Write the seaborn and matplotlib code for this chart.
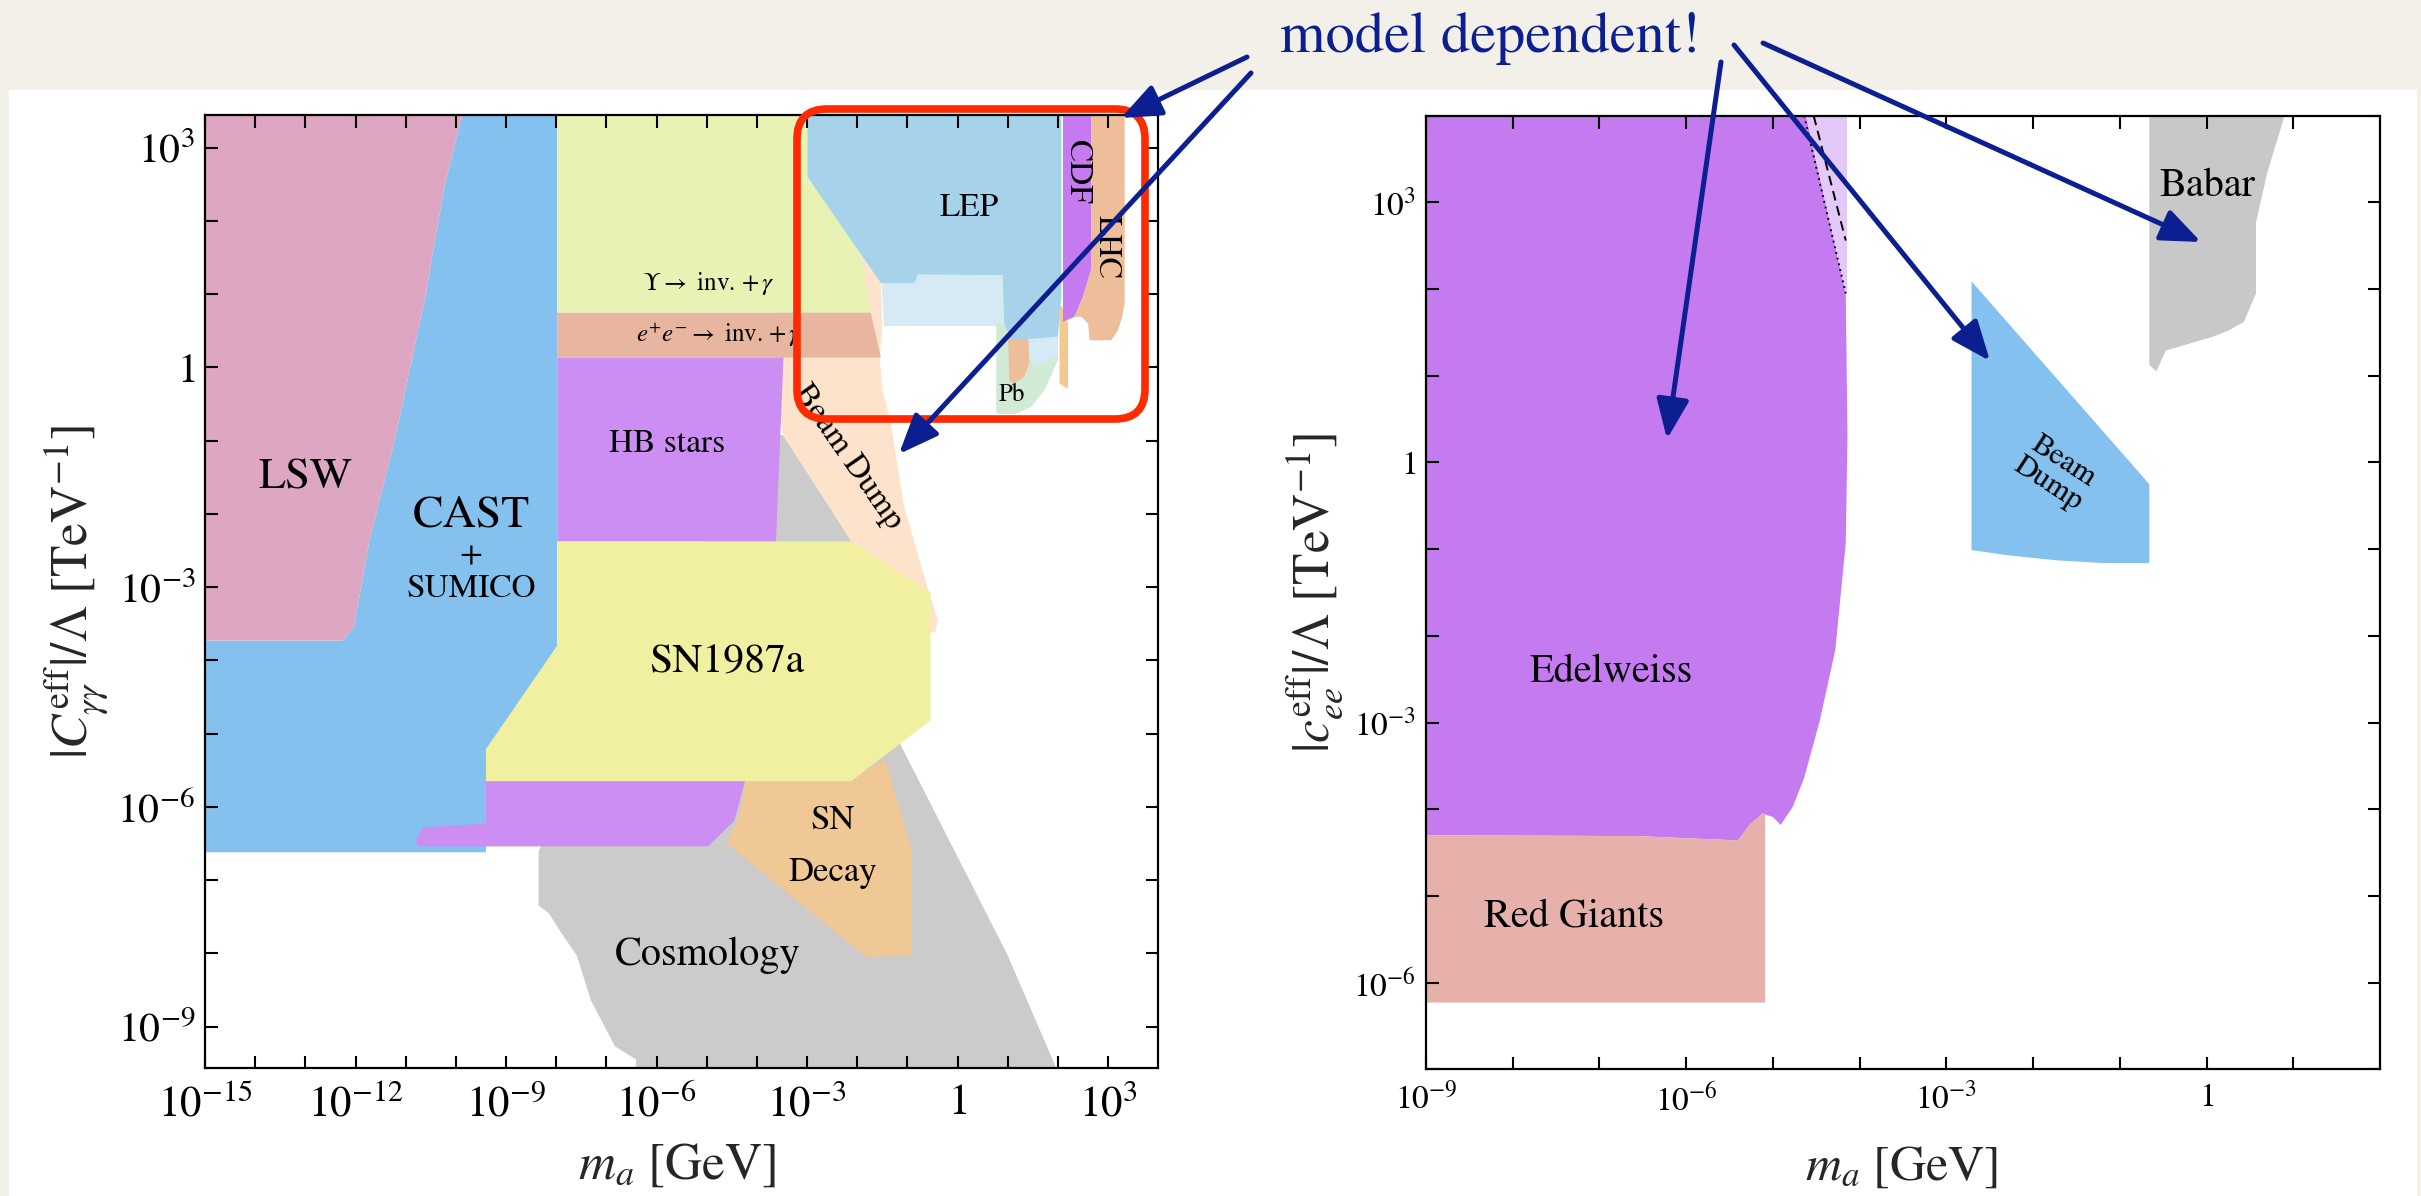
import numpy as np
import matplotlib
matplotlib.use("Agg")
import matplotlib.pyplot as plt
import seaborn as sns
from matplotlib.patches import FancyBboxPatch, Rectangle
from matplotlib.ticker import FixedLocator, FuncFormatter, NullLocator

# ------------------------------------------------------------------
# DATA : region boundaries, (log10 m_a[GeV], log10 coupling[TeV^-1])
# ------------------------------------------------------------------
# left panel : photon coupling
cosmology = [(-8.35, -6.6), (-8.35, -7.35), (-8.15, -7.45), (-7.9, -7.72), (-7.59, -8.03),
             (-7.31, -8.64), (-6.83, -9.27), (-6.41, -9.45), (-6.41, -9.7), (2.05, -9.7),
             (1.0, -8.03), (-1.25, -5.0), (-1.6, -4.0), (-2.12, -2.37), (-3.47, -0.92),
             (-4.0, -0.92)]
sn_decay = [(-4.22, -5.6), (-2.12, -5.6), (-1.44, -5.36), (-0.92, -6.57), (-0.92, -8.03),
            (-1.82, -8.05), (-4.6, -6.5), (-4.35, -6.1)]
beam_dump_left = [(-3.6, 3.5), (-2.99, 3.5), (-2.99, 2.6), (-1.53, 1.15), (-1.50, 0.56),
                  (-1.55, 0.13), (-1.5, -0.3), (-1.33, -0.76), (-1.07, -1.9), (-0.6, -3.0),
                  (-0.39, -3.46), (-0.45, -3.62), (-0.54, -3.62), (-2.12, -2.37),
                  (-3.47, -0.94), (-3.6, -0.5)]
cast = [(-9.85, 3.5), (-7.98, 3.5), (-7.98, -3.8), (-9.33, -5.21), (-9.4, -5.3), (-9.4, -6.62),
        (-15.0, -6.62), (-15.0, -3.73), (-12.26, -3.73), (-12.03, -3.55), (-11.73, -2.39),
        (-11.2, -0.94), (-10.6, 1.0), (-10.23, 2.47)]
lsw = [(-15.0, 3.5), (-9.85, 3.5), (-10.23, 2.47), (-10.6, 1.0), (-11.2, -0.94),
       (-11.73, -2.39), (-12.03, -3.55), (-12.26, -3.73), (-15.0, -3.73)]
hb_low = [(-10.75, -6.54), (-10.8, -6.45), (-10.65, -6.28), (-9.4, -6.23), (-9.4, -5.6),
          (-4.22, -5.6), (-4.45, -6.19), (-4.97, -6.54)]
sn1987a = [(-7.98, -2.373), (-2.12, -2.373), (-0.54, -3.07), (-0.54, -4.82), (-2.12, -5.65),
           (-9.4, -5.65), (-9.4, -5.21), (-7.98, -3.8)]
upsilon = [(-7.98, 3.5), (-3.09, 3.5), (-2.46, 2.33), (-1.93, 1.6), (-1.73, 0.746),
           (-7.98, 0.746)]
ee_inv = [(-7.98, 0.746), (-1.73, 0.746), (-1.53, 0.134), (-7.98, 0.134)]
hb_stars = [(-7.98, 0.134), (-3.47, 0.134), (-3.62, -2.373), (-7.98, -2.373)]
lep_light = [(-1.53, 1.3), (0.93, 1.3), (0.93, 0.56), (-1.47, 0.56)]
lep_light2 = [(1.40, 0.45), (2.0, 0.45), (2.0, 0.15), (1.53, 0.01), (1.40, 0.15)]
pb = [(0.77, 0.6), (2.0, 0.6), (2.0, 0.10), (1.73, -0.31), (1.47, -0.54), (1.13, -0.64),
      (0.77, -0.63)]
lhc_low = [(1.0, 0.6), (1.40, 0.6), (1.43, 0.06), (1.33, -0.125), (1.13, -0.22), (1.03, -0.17)]
z_strip = [(2.03, 0.83), (2.08, 0.83), (2.2, 0.6), (2.2, -0.29), (2.12, -0.26), (2.03, -0.22)]
lep = [(-2.99, 3.5), (2.07, 3.5), (2.07, 0.965), (2.0, 0.42), (1.07, 0.37), (0.93, 0.6),
       (0.9, 1.26), (-0.79, 1.27), (-0.86, 1.15), (-1.53, 1.15), (-2.99, 2.6)]
cdf = [(2.10, 3.5), (2.66, 3.5), (2.66, 1.33), (2.50, 0.965), (2.33, 0.69), (2.10, 0.624)]
lhc = [(2.66, 3.5), (3.33, 3.5), (3.33, 0.875), (3.28, 0.69), (3.20, 0.51), (3.06, 0.37),
       (2.63, 0.37), (2.60, 0.60), (2.47, 0.69), (2.33, 0.69), (2.50, 0.965), (2.66, 1.33)]

# right panel : electron coupling
edelweiss = [(-9.0, 4.1), (-4.64, 4.1), (-4.16, 1.95), (-4.14, 0.30), (-4.16, -0.93),
             (-4.28, -2.16), (-4.46, -2.98), (-4.64, -3.64), (-4.77, -3.97), (-4.91, -4.18),
             (-5.0, -4.09), (-5.12, -4.05), (-5.27, -4.18), (-5.40, -4.36), (-6.57, -4.31),
             (-9.0, -4.3)]
edelweiss_light = [(-4.64, 4.1), (-4.14, 4.1), (-4.14, 1.95), (-4.16, 1.95)]
red_giants = [(-9.0, -4.30), (-6.57, -4.31), (-5.40, -4.36), (-5.27, -4.18), (-5.12, -4.05),
              (-5.09, -4.05), (-5.09, -6.23), (-9.0, -6.23)]
beam_dump_right = [(-2.71, 2.09), (-0.66, -0.25), (-0.66, -1.16), (-1.2, -1.16),
                   (-1.72, -1.13), (-2.3, -1.07), (-2.71, -1.01)]
babar = [(-0.66, 4.1), (0.93, 4.1), (0.70, 3.34), (0.57, 2.77), (0.57, 1.95), (0.43, 1.62),
         (0.25, 1.52), (0.07, 1.45), (-0.2, 1.37), (-0.47, 1.29), (-0.58, 1.05), (-0.66, 1.13)]
dashed_x = [-4.53, -4.16]
dashed_y = [4.0, 2.56]
dotted_x = [-4.64, -4.16]
dotted_y = [4.0, 1.95]

# tick decades and labelled decades
left_x_ticks = list(range(-15, 4))
left_x_labels = [-15, -12, -9, -6, -3, 0, 3]
left_y_ticks = list(range(-9, 4))
left_y_labels = [-9, -6, -3, 0, 3]
right_x_ticks = list(range(-9, 2))
right_x_labels = [-9, -6, -3, 0]
right_y_ticks = list(range(-7, 5))
right_y_labels = [-6, -3, 0, 3]

# ------------------------------------------------------------------
# STYLE
# ------------------------------------------------------------------
sns.set_theme(style="ticks")
plt.rcParams["font.family"] = ["STIXGeneral", "DejaVu Serif"]
plt.rcParams["mathtext.fontset"] = "stix"
plt.rcParams["axes.edgecolor"] = "black"
plt.rcParams["axes.linewidth"] = 1.5

W, H = 2421, 1196
fig = plt.figure(figsize=(W / 100, H / 100), dpi=100)
fig.patch.set_facecolor("#f3f0ea")

bg = fig.add_axes([0, 0, 1, 1], zorder=-10)
bg.set_xlim(0, W); bg.set_ylim(H, 0); bg.axis("off")
bg.add_patch(Rectangle((0, 0), W, H, facecolor="#f3f0ea", edgecolor="none"))
bg.add_patch(Rectangle((9, 90), 2408, 1110, facecolor="white", edgecolor="none"))

axL = fig.add_axes([0.08468, 0.10677, 0.39376, 0.79707])
axR = fig.add_axes([0.58901, 0.10594, 0.39405, 0.79732])


def fill(ax, verts, color, z):
    xs, ys = zip(*verts)
    ax.fill(10.0 ** np.array(xs), 10.0 ** np.array(ys), color=color, lw=0, zorder=z)


def make_fmt(labels):
    def f(v, pos):
        k = int(round(np.log10(v)))
        if k not in labels:
            return ""
        return "$1$" if k == 0 else "$10^{%d}$" % k
    return f


def style(ax, xt, xl, yt, yl, xsize, ysize, xpad, ypad):
    ax.set_xscale("log"); ax.set_yscale("log")
    ax.xaxis.set_major_locator(FixedLocator([10.0 ** k for k in xt]))
    ax.yaxis.set_major_locator(FixedLocator([10.0 ** k for k in yt]))
    ax.xaxis.set_minor_locator(NullLocator()); ax.yaxis.set_minor_locator(NullLocator())
    ax.xaxis.set_major_formatter(FuncFormatter(make_fmt(xl)))
    ax.yaxis.set_major_formatter(FuncFormatter(make_fmt(yl)))
    ax.tick_params(which="both", direction="in", length=9, width=1.5, top=True, right=True,
                   colors="black")
    ax.tick_params(axis="x", labelsize=xsize, pad=xpad)
    ax.tick_params(axis="y", labelsize=ysize, pad=ypad)
    ax.set_axisbelow(False)
    ax.set_facecolor("white")
    for s in ax.spines.values():
        s.set_linewidth(1.6); s.set_color("black")


# ---------------- left panel ----------------
left_layers = [
    (cosmology, "#cbcbcb"), (sn_decay, "#f0c896"), (beam_dump_left, "#fee3cc"),
    (cast, "#85c1ef"), (lsw, "#dda6c2"), (hb_low, "#cc8ef2"), (sn1987a, "#f0f0a0"),
    (upsilon, "#e8f2b4"), (ee_inv, "#e8b6a0"), (hb_stars, "#cc8ef2"),
    (lep_light, "#d6eaf6"), (pb, "#d0ead6"), (lep_light2, "#d6eaf6"), (lhc_low, "#eebe9b"),
    (z_strip, "#f4c990"), (lep, "#a6d3ea"), (cdf, "#c57aef"), (lhc, "#eebe9b"),
]
for i, (v, c) in enumerate(left_layers):
    fill(axL, v, c, 1.0 + 0.07 * i)

style(axL, left_x_ticks, left_x_labels, left_y_ticks, left_y_labels, 31, 30, 12, 7)
axL.set_xlim(1e-15, 1e4)
axL.set_ylim(10 ** -9.57, 10 ** 3.446)

left_texts = [
    ("LSW", -13.0, -1.52, 32, 0), ("CAST", -9.7, -2.03, 33, 0), ("+", -9.7, -2.57, 24, 0),
    ("SUMICO", -9.7, -3.03, 24, 0), ("HB stars", -5.8, -1.05, 24, 0),
    (r"$\Upsilon\rightarrow$ inv. $+\,\gamma$", -4.97, 1.15, 18, 0),
    (r"$e^{+}e^{-}\rightarrow$ inv. $+\,\gamma$", -4.75, 0.45, 18, 0),
    ("SN1987a", -4.6, -4.04, 30, 0), ("SN", -2.49, -6.19, 25, 0), ("Decay", -2.49, -6.9, 25, 0),
    ("Cosmology", -4.97, -8.03, 29, 0), ("LEP", 0.24, 2.17, 24, 0), ("CDF", 2.37, 2.67, 24, -90),
    ("LHC", 2.96, 1.65, 23, -90), ("Pb", 1.07, -0.38, 18, 0), ("Beam Dump", -2.19, -1.23, 24, -55),
]
for s, x, y, fs, rot in left_texts:
    axL.text(10.0 ** x, 10.0 ** y, s, fontsize=fs, ha="center", va="center", rotation=rot,
             rotation_mode="anchor", zorder=3, color="black")

axL.set_xlabel(r"$m_a\ [{\rm GeV}]$", fontsize=37)
axL.set_ylabel(r"$|C_{\gamma\gamma}^{\rm eff}|/\Lambda\ [{\rm TeV}^{-1}]$", fontsize=37)
axL.xaxis.set_label_coords(0.495, -0.077)
axL.yaxis.set_label_coords(-0.100, 0.5)

# ---------------- right panel ----------------
right_layers = [
    (edelweiss, "#c47bf0"), (edelweiss_light, "#e3c9f7"), (red_giants, "#e5b1aa"),
    (beam_dump_right, "#85c1ef"), (babar, "#c8c8c8"),
]
for i, (v, c) in enumerate(right_layers):
    fill(axR, v, c, 1.0 + 0.1 * i)

sns.lineplot(x=10.0 ** np.array(dashed_x), y=10.0 ** np.array(dashed_y), ax=axR, color="black",
             linestyle=(0, (5, 3)), lw=1.4, zorder=2.2)
sns.lineplot(x=10.0 ** np.array(dotted_x), y=10.0 ** np.array(dotted_y), ax=axR, color="black",
             linestyle=(0, (1, 2)), lw=1.4, zorder=2.2)

style(axR, right_x_ticks, right_x_labels, right_y_ticks, right_y_labels, 24, 24, 10, 7)
axR.set_xlim(1e-9, 1e2)
axR.set_ylim(1e-7, 1e4)

right_texts = [
    ("Edelweiss", -6.86, -2.41, 29, 0), ("Red Giants", -7.29, -5.24, 29, 0),
    ("Babar", 0.01, 3.19, 29, 0), ("Beam\nDump", -1.74, -0.12, 22, -33),
]
for s, x, y, fs, rot in right_texts:
    axR.text(10.0 ** x, 10.0 ** y, s, fontsize=fs, ha="center", va="center", rotation=rot,
             rotation_mode="anchor", zorder=3, color="black", linespacing=1.0)

axR.set_xlabel(r"$m_a\ [{\rm GeV}]$", fontsize=36)
axR.set_ylabel(r"$|c_{ee}^{\rm eff}|/\Lambda\ [{\rm TeV}^{-1}]$", fontsize=37)
axR.xaxis.set_label_coords(0.499, -0.080)
axR.yaxis.set_label_coords(-0.085, 0.5)

# ---------------- overlay annotations ----------------
ov = fig.add_axes([0, 0, 1, 1], zorder=10)
ov.set_xlim(0, W); ov.set_ylim(H, 0); ov.axis("off")

ov.add_patch(FancyBboxPatch((797, 109), 348, 310, boxstyle="round,pad=0,rounding_size=30",
                            facecolor="none", edgecolor="#fe2a00", lw=5.5))

BLUE = "#0b1f90"
ov.text(1490, 52, "model dependent!", fontsize=42, color=BLUE, ha="center", va="baseline")

arrows = [((1247, 57), (1121, 118)), ((1251, 73), (899, 454)), ((1721, 62), (1667, 439)),
          ((1734, 45), (1990, 361)), ((1763, 43), (2201, 242))]
for start, tip in arrows:
    ov.annotate("", xy=tip, xytext=start,
                arrowprops=dict(arrowstyle="-|>,head_length=1.1,head_width=0.45", color=BLUE,
                                lw=3.6, mutation_scale=22, shrinkA=0, shrinkB=0))

fig.savefig("out.png", dpi=100, facecolor=fig.get_facecolor())
